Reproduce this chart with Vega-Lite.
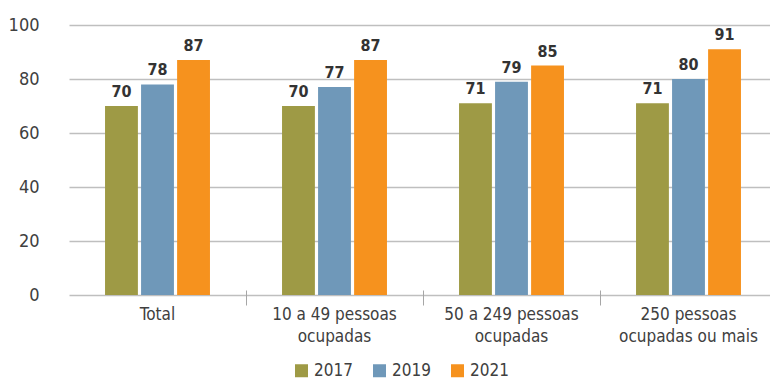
{
  "$schema": "https://vega.github.io/schema/vega-lite/v6.json",
  "autosize": {"type": "none"},
  "width": 717,
  "height": 270,
  "padding": {"left": 53, "top": 25, "right": 0, "bottom": 86},
  "background": "white",
  "config": {
    "view": {"stroke": null},
    "font": "DejaVu Sans Condensed, Roboto, sans-serif",
    "axis": {"labelFont": "DejaVu Sans Condensed, Roboto, sans-serif", "labelColor": "#404040"},
    "legend": {"labelFont": "DejaVu Sans Condensed, Roboto, sans-serif"}
  },
  "data": {
    "values": [
      {"categoria": "Total", "ano": "2017", "valor": 70},
      {"categoria": "Total", "ano": "2019", "valor": 78},
      {"categoria": "Total", "ano": "2021", "valor": 87},
      {"categoria": "10 a 49 pessoas ocupadas", "ano": "2017", "valor": 70},
      {"categoria": "10 a 49 pessoas ocupadas", "ano": "2019", "valor": 77},
      {"categoria": "10 a 49 pessoas ocupadas", "ano": "2021", "valor": 87},
      {"categoria": "50 a 249 pessoas ocupadas", "ano": "2017", "valor": 71},
      {"categoria": "50 a 249 pessoas ocupadas", "ano": "2019", "valor": 79},
      {"categoria": "50 a 249 pessoas ocupadas", "ano": "2021", "valor": 85},
      {"categoria": "250 pessoas ocupadas ou mais", "ano": "2017", "valor": 71},
      {"categoria": "250 pessoas ocupadas ou mais", "ano": "2019", "valor": 80},
      {"categoria": "250 pessoas ocupadas ou mais", "ano": "2021", "valor": 91}
    ]
  },
  "encoding": {
    "x": {
      "field": "categoria",
      "type": "nominal",
      "sort": null,
      "scale": {"range": [16, 724], "paddingInner": 0, "paddingOuter": 0},
      "axis": {
        "title": null,
        "domain": false,
        "labelAngle": 0,
        "labelFontSize": 17,
        "labelLineHeight": 22,
        "labelBaseline": "top",
        "labelPadding": 1,
        "bandPosition": 1,
        "tickSize": 15,
        "offset": -5,
        "tickColor": "#a6a6a6",
        "labelExpr": "datum.value === '10 a 49 pessoas ocupadas' ? ['10 a 49 pessoas', 'ocupadas'] : datum.value === '50 a 249 pessoas ocupadas' ? ['50 a 249 pessoas', 'ocupadas'] : datum.value === '250 pessoas ocupadas ou mais' ? ['250 pessoas', 'ocupadas ou mais'] : datum.value"
      }
    },
    "xOffset": {
      "field": "ano",
      "type": "nominal",
      "scale": {"paddingInner": 0.088, "paddingOuter": 1.147}
    },
    "y": {
      "field": "valor",
      "type": "quantitative",
      "scale": {"domain": [0, 100]},
      "axis": {
        "title": null,
        "domain": false,
        "ticks": false,
        "values": [0, 20, 40, 60, 80, 100],
        "gridColor": "#bfbfbf",
        "gridWidth": 1.3,
        "labelFontSize": 18,
        "labelPadding": 14
      }
    }
  },
  "layer": [
    {
      "mark": {"type": "bar"},
      "encoding": {
        "color": {
          "field": "ano",
          "type": "nominal",
          "scale": {"domain": ["2017", "2019", "2021"], "range": ["#9e9a45", "#6f98b9", "#f6921e"]},
          "legend": {
            "title": null,
            "orient": "none",
            "direction": "horizontal",
            "legendX": 240,
            "legendY": 337,
            "symbolType": "square",
            "symbolSize": 169,
            "symbolStrokeWidth": 0,
            "labelFontSize": 17,
            "labelColor": "#404040",
            "labelOffset": 4,
            "columnPadding": 18,
            "padding": 0
          }
        }
      }
    },
    {
      "mark": {"type": "text", "baseline": "bottom", "dy": -6, "fontSize": 16, "fontWeight": "bold", "color": "#333333"},
      "encoding": {
        "text": {"field": "valor", "type": "quantitative"}
      }
    }
  ]
}
